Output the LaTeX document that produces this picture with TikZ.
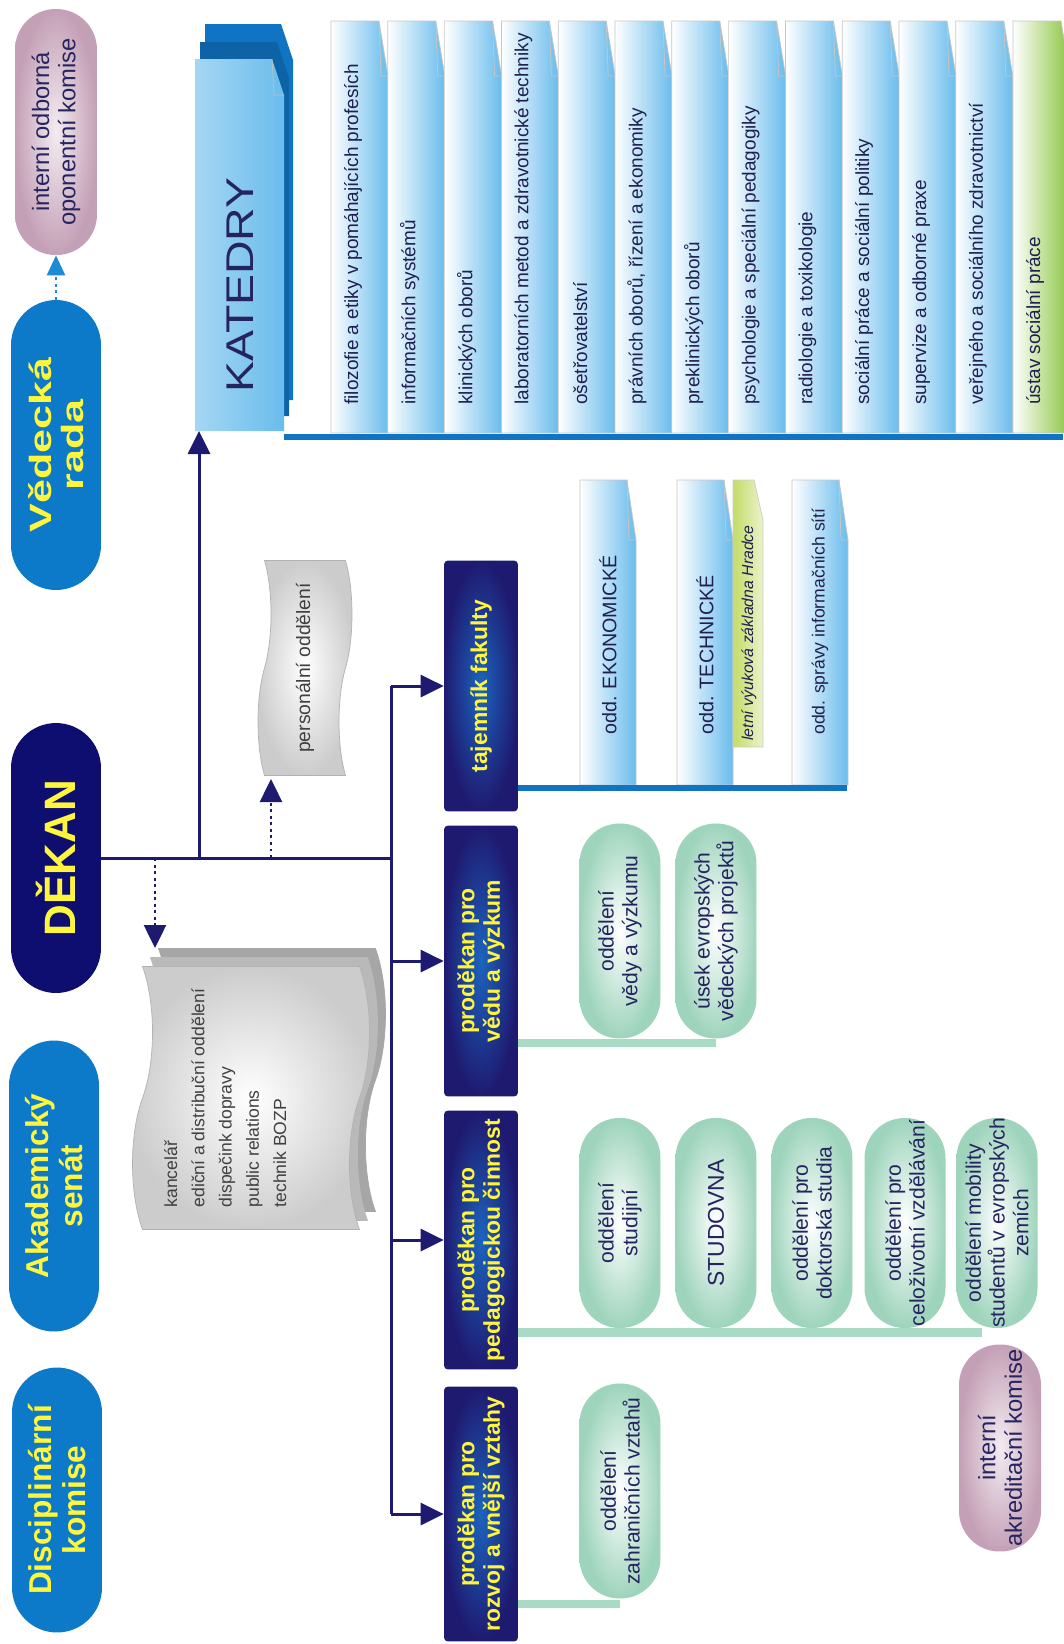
\documentclass[tikz,border=0pt]{standalone}
\usepackage{fontspec}
\setmainfont{Liberation Sans}
\newfontfamily\widesans[FakeStretch=1.4]{Liberation Sans}
\newfontfamily\midsans[FakeStretch=1.2]{Liberation Sans}
\usetikzlibrary{arrows.meta,shapes.symbols,backgrounds}

\definecolor{navy}{RGB}{30,26,112}
\definecolor{navyhi}{RGB}{28,100,190}
\definecolor{dekannavy}{RGB}{14,14,112}
\definecolor{capblue}{RGB}{12,122,200}
\definecolor{hdyellow}{RGB}{255,245,60}
\definecolor{tabblue}{RGB}{105,188,236}
\definecolor{deepblue}{RGB}{16,116,196}
\definecolor{ovalgreen}{RGB}{158,212,188}
\definecolor{bargreen}{RGB}{168,218,198}
\definecolor{mauve}{RGB}{196,160,182}
\definecolor{inkblue}{RGB}{38,36,96}
\definecolor{leafgreen}{RGB}{140,196,64}
\definecolor{letgreen}{RGB}{196,220,104}
\definecolor{dotblue}{RGB}{30,140,210}

\begin{document}
\begin{tikzpicture}[x=0.02cm, y=-0.02cm,
    conn/.style = {draw=navy, line width=0.06cm},
    arr/.style = {conn, -{Triangle[length=0.46cm, width=0.44cm]}},
    dotarr/.style = {arr, dotted, line width=0.05cm},
    headcap/.style = {rectangle, rounded corners=0.9cm, rotate=90, fill=capblue, text=hdyellow, align=center, inner sep=0pt, minimum height=1.8cm, font=\bfseries\fontsize{18}{19}\selectfont},
    mauvecap/.style = {rectangle, rounded corners=0.81cm, rotate=90, inner color=mauve!20, outer color=mauve, text=inkblue, align=center, inner sep=0pt, minimum height=1.64cm, font=\fontsize{13.5}{15}\selectfont},
    navybox/.style = {rectangle, rounded corners=0.08cm, rotate=90, inner color=navyhi, outer color=navy, text=hdyellow, align=center, inner sep=0pt, minimum height=1.48cm, font=\bfseries\fontsize{13}{14.5}\selectfont},
    unitoval/.style = {rectangle, rounded corners=0.8cm, rotate=90, inner color=white, outer color=ovalgreen, text=inkblue, align=center, inner sep=0pt, minimum height=1.62cm, minimum width=4.3cm, font=\fontsize{12}{13.5}\selectfont},
    paperstack/.style = {tape, tape bend top=out and in, tape bend bottom=out and in, rotate=90, draw=gray!60, align=left, inner sep=0pt},
    paperfront/.style = {paperstack, inner color=white, outer color=gray!40, text=black!75},
    deptpage/.style = {draw=gray!45, line width=0.4pt, left color=white, right color=tabblue},
    depttext/.style = {rotate=90, anchor=west, inner sep=0pt, text=inkblue!85!black, font=\fontsize{10.8}{12}\selectfont},
    kbar/.style = {deepblue, line width=0.13cm},
    gbar/.style = {bargreen, line width=0.17cm}
]
\useasboundingbox (0,0) rectangle (1063,1644);

% vedeni fakulty
\node[mauvecap, minimum width=4.92cm] (oponkom) at (56,132) {interní odborná\\oponentní komise};
\node[headcap, minimum width=5.8cm, font=\widesans\bfseries\fontsize{17.5}{18}\selectfont] (vedrada) at (56,445) {Vědecká\\rada};
\node[headcap, minimum width=5.4cm, fill=dekannavy, font=\bfseries\fontsize{25}{26}\selectfont] (dekan) at (56,858) {DĚKAN};
\node[headcap, minimum width=5.82cm] (akadsenat) at (54,1186) {Akademický\\senát};
\node[headcap, minimum width=5.3cm] (diskom) at (57,1500) {Disciplinární\\komise};

% katedry
\path[fill=deepblue] (205,24) -- (281,24) -- (293,60) -- (293,400) -- (205,400) -- cycle;
\path[fill=deepblue!85!black] (200,42) -- (277,42) -- (289,78) -- (289,416) -- (200,416) -- cycle;
\path[left color=tabblue!60, middle color=white, right color=tabblue] (195,59) -- (272,59) -- (284,95) -- (284,431) -- (195,431) -- cycle;
\draw[gray!50, line width=0.4pt] (272,59) -- (274,95) -- (284,95);
\node[rotate=90, inner sep=0pt, text=inkblue, font=\midsans\fontsize{22}{24}\selectfont] (katedry) at (240,285) {KATEDRY};
\coordinate (katfoot) at (199,431);

\foreach \dept [count=\i from 0] in {filozofie a etiky v pomáhajících profesích, informačních systémů, klinických oborů, laboratorních metod a zdravotnické techniky, ošetřovatelství, {právních oborů, řízení a ekonomiky}, preklinických oborů, psychologie a speciální pedagogiky, radiologie a toxikologie, sociální práce a sociální politiky, supervize a odborné praxe, veřejného a sociálního zdravotnictví} {
    \pgfmathsetmacro{\xa}{331+56.8*\i}
    \path[deptpage] (\xa,21) -- (\xa+48,21) -- (\xa+57,76) -- (\xa+57,433) -- (\xa,433) -- cycle;
    \draw[gray!45, line width=0.4pt] (\xa+48,21) -- (\xa+50,76) -- (\xa+57,76);
    \node[depttext] (dept\i) at (\xa+22,405) {\dept};
}
\path[deptpage, right color=leafgreen] (1013,21) -- (1061,21) -- (1070,76) -- (1070,433) -- (1013,433) -- cycle;
\node[depttext] (dept12) at (1035,405) {ústav sociální práce};
\draw[kbar] (284,437) -- (1063,437);

% sekretariat
\node[paperstack, fill=gray!70, draw=gray!70, minimum width=5.26cm, minimum height=4.74cm, tape bend height=0.4cm] (kancback) at (267,1080) {};
\node[paperstack, fill=gray!55, draw=gray!55, minimum width=5.26cm, minimum height=4.74cm, tape bend height=0.4cm] (kancmid) at (259,1089) {};
\node[paperfront, minimum width=5.26cm, minimum height=4.74cm, tape bend height=0.4cm, font=\fontsize{10}{15.5}\selectfont] (kancelar) at (251,1098) {kancelář\\ediční a distribuční oddělení\\dispečink dopravy\\public relations\\technik BOZP\\[1.4em]};
\coordinate (kanctop) at (155,948);
\node[paperfront, minimum width=4.3cm, minimum height=1.88cm, tape bend height=0.26cm, font=\fontsize{11}{12}\selectfont] (personal) at (305,668) {personální oddělení};
\coordinate (perfoot) at (271,779);

% prodekani
\node[navybox, minimum width=5.02cm] (tajemnik) at (481,686) {tajemník fakulty};
\node[navybox, minimum width=5.42cm] (prodveda) at (481,961) {proděkan pro\\vědu a výzkum};
\node[navybox, minimum width=5.18cm] (prodped) at (481,1240) {proděkan pro\\pedagogickou činnost};
\node[navybox, minimum width=5.1cm] (prodrozvoj) at (481,1514) {proděkan pro\\rozvoj a vnější vztahy};

% oddeleni tajemnika
\foreach \xa/\lbl/\fs [count=\i] in {580/odd. EKONOMICKÉ/11.2, 677/odd. TECHNICKÉ/11.2, 792/odd. správy informačních sítí/10} {
    \path[deptpage] (\xa,480) -- (\xa+47,480) -- (\xa+56,540) -- (\xa+56,785) -- (\xa,785) -- cycle;
    \draw[gray!45, line width=0.4pt] (\xa+47,480) -- (\xa+49,540) -- (\xa+56,540);
    \node[depttext, font=\fontsize{\fs}{12}\selectfont] (odd\i) at (\xa+28,735) {\lbl};
}
\path[draw=gray!40, line width=0.4pt, left color=letgreen, right color=letgreen!35] (733,480) -- (754,480) -- (763,520) -- (763,747) -- (733,747) -- cycle;
\node[depttext, font=\itshape\fontsize{9}{10}\selectfont] (letni) at (749,741) {letní výuková základna Hradce};
\draw[kbar] (518,788) -- (847,788);

% oddeleni prodekanu
\node[unitoval] (vedy) at (620,931) {oddělení\\vědy a výzkumu};
\node[unitoval] (usek) at (716,931) {úsek evropských\\vědeckých projektů};
\node[unitoval, minimum width=4.2cm] (studijni) at (620,1223) {oddělení\\studijní};
\node[unitoval, minimum width=4.2cm, font=\fontsize{13}{14}\selectfont] (studovna) at (716,1223) {STUDOVNA};
\node[unitoval, minimum width=4.2cm] (doktor) at (812,1223) {oddělení pro\\doktorská studia};
\node[unitoval, minimum width=4.2cm] (celozivot) at (905,1223) {oddělení pro\\celoživotní vzdělávání};
\node[unitoval, minimum width=4.2cm] (mobilita) at (997,1223) {oddělení mobility\\studentů v evropských\\zemích};
\node[mauvecap, minimum width=4.14cm] (akredkom) at (1000,1448) {interní\\akreditační komise};
\node[unitoval] (zahranici) at (620,1491) {oddělení\\zahraničních vztahů};

\begin{scope}[on background layer]
    \fill[white] (0,0) rectangle (1063,1644);
    \coordinate (vedybar) at ([yshift=-0.08cm]vedy.west);
    \coordinate (studbar) at ([yshift=-0.08cm]studijni.west);
    \coordinate (zahrbar) at ([yshift=-0.1cm]zahranici.west);
    \draw[gbar] (prodveda.south |- vedybar) -- (vedybar -| usek.west);
    \draw[gbar] (prodped.south |- studbar) -- ([xshift=-0.3cm]studbar -| mobilita.west);
    \draw[gbar] (prodrozvoj.south |- zahrbar) -- (zahrbar);
\end{scope}

% spoje
\coordinate (spine) at (391,0);
\draw[conn] (dekan.south) -- (dekan.south -| spine);
\draw[conn] (tajemnik.north -| spine) -- (prodrozvoj.north -| spine);
\foreach \b in {tajemnik,prodveda,prodped,prodrozvoj}
    \draw[arr] (\b.north -| spine) -- (\b.north);
\draw[arr] (dekan.south -| katfoot) -- (katfoot);
\draw[dotarr] (dekan.south -| kanctop) -- (kanctop);
\draw[dotarr] (dekan.south -| perfoot) -- (perfoot);
\draw[dotarr, draw=dotblue, -{Triangle[length=0.4cm, width=0.36cm]}] (vedrada.east) -- (oponkom.west);
\end{tikzpicture}
\end{document}
